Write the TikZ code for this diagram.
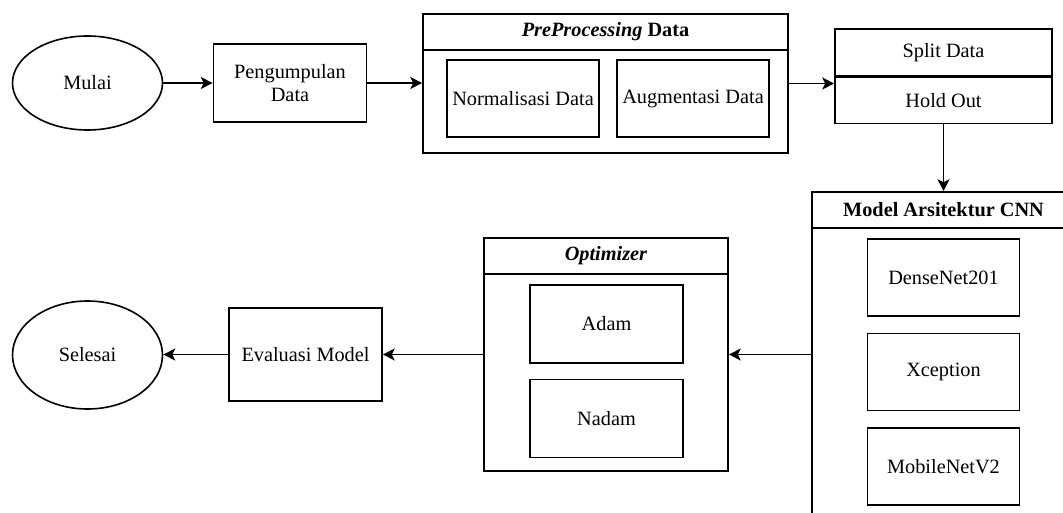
\documentclass[tikz,border=0pt]{standalone}
\usepackage{fontspec}
\setmainfont{Liberation Serif}
\usetikzlibrary{arrows.meta,positioning,shapes.geometric}

\begin{document}
\begin{tikzpicture}[x=1pt,y=-1pt,
  every node/.style={font=\rmfamily\fontsize{20.3}{23}\selectfont, align=center, inner sep=0pt},
  box/.style={draw, rectangle, line width=1.6pt, minimum width=152pt, minimum height=77pt},
  terminal/.style={draw, ellipse, line width=1.6pt, minimum width=150pt, minimum height=94pt},
  group/.style={draw, rectangle, line width=1.6pt},
  head/.style={draw, rectangle, line width=1.6pt, minimum height=36pt, anchor=north, font=\rmfamily\fontsize{20.3}{23}\selectfont\bfseries},
  arr/.style={-{Stealth[length=12pt,width=12pt,inset=3pt]}, line width=1.6pt}]

\useasboundingbox (0,0) rectangle (1063,513);

% top row
\node [terminal] (mulai) at (87.5,83) {Mulai};
\node [box, minimum width=153pt, minimum height=78pt] (kumpul) at (290,83) {Pengumpulan\\Data};
\node [group, minimum width=365pt, minimum height=139pt] (prep) at (605.5,83.5) {};
\node [head, minimum width=365pt] (prephead) at (prep.north) {\textit{PreProcessing} Data};
\node [box] (norm) at (523,98.5) {Normalisasi Data};
\node [box] (augm) at (693,98.5) {Augmentasi Data};
\node [box, minimum width=217pt, minimum height=47pt] (split) at (943.5,52.5) {Split Data};
\node [box, minimum width=217pt, minimum height=46pt, below=0pt of split] (hold) {Hold Out};

% bottom row
\node [group, minimum width=263pt, minimum height=333pt] (cnn) at (943.5,358.5) {};
\node [head, minimum width=263pt] (cnnhead) at (cnn.north) {Model Arsitektur CNN};
\node [box] (dense) at (943.5,277.5) {DenseNet201};
\node [box, below=16pt of dense] (xcep) {Xception};
\node [box, below=16pt of xcep] (mobile) {MobileNetV2};
\node [group, minimum width=244pt, minimum height=233pt] (opt) at (606,354.5) {};
\node [head, minimum width=244pt] (opthead) at (opt.north) {\textit{Optimizer}};
\node [box, minimum width=153pt, minimum height=78pt] (adam) at (606.5,324) {Adam};
\node [box, minimum width=153pt, minimum height=78pt, below=15pt of adam] (nadam) {Nadam};
\node [box, minimum width=153pt, minimum height=93pt] (eval) at (305.5,354.5) {Evaluasi Model};
\node [terminal, minimum height=108pt] (selesai) at (87.5,355) {Selesai};

\draw [arr] (mulai) -- (kumpul);
\draw [arr] (kumpul.east) -- (kumpul.east -| prep.west);
\draw [arr] (prep.east) -- (prep.east -| hold.west);
\draw [arr] (hold) -- (cnnhead);
\draw [arr] (opt.east -| cnn.west) -- (opt.east);
\draw [arr] (opt) -- (eval);
\draw [arr] (eval.west) -- (eval.west -| selesai.east);
\end{tikzpicture}
\end{document}
